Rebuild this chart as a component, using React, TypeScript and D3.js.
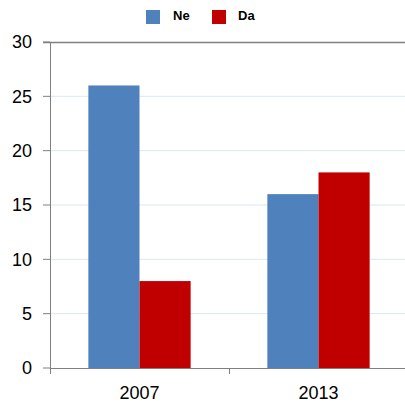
import React from 'react';
import * as d3 from 'd3';

// data
const categories = ['2007', '2013'];
const seriesNames = ['Ne', 'Da'];
const neValues = [26, 16];
const daValues = [8, 18];
const yTicks = [0, 5, 10, 15, 20, 25, 30];
const colors = ['#4f81bd', '#c00000'];

export default function App() {
    const w = 405,
        h = 406;
    const margin = { top: 42, left: 50, bottom: 38, right: -3 };
    const width = w - margin.left - margin.right,
        height = h - margin.top - margin.bottom;

    const x = d3.scaleBand().domain(categories).range([0, width]).paddingInner(0).paddingOuter(0);
    const inner = d3.scaleBand().domain(seriesNames).range([0, x.bandwidth()]).paddingInner(0).paddingOuter(0.75);
    const y = d3.scaleLinear().domain([0, 30]).range([height, 0]);

    const series = [neValues, daValues];
    const font = 'Liberation Sans, Arial, sans-serif';

    return (
        <svg width={w} height={h} style={{ position: 'absolute', left: 0, top: 0 }}>
            {/* legend */}
            <g fontFamily={font} fontWeight="bold" fontSize={13}>
                <rect x={146} y={10} width={14} height={14} fill={colors[0]} />
                <text x={173} y={20}>{seriesNames[0]}</text>
                <rect x={212} y={10} width={14} height={14} fill={colors[1]} />
                <text x={238} y={20}>{seriesNames[1]}</text>
            </g>
            <g transform={`translate(${margin.left},${margin.top})`}>
                {/* gridlines */}
                {yTicks.filter(t => t > 0 && t < 30).map(t => (
                    <line key={t} x1={0} x2={width} y1={y(t)} y2={y(t)} stroke="#dce6f2" strokeWidth={1} />
                ))}
                {/* bars */}
                {categories.map((c, i) => (
                    <g key={c} transform={`translate(${x(c)},0)`}>
                        {seriesNames.map((s, j) => (
                            <rect
                                key={s}
                                x={inner(s)}
                                y={y(series[j][i])}
                                width={inner.bandwidth()}
                                height={y(0) - y(series[j][i])}
                                fill={colors[j]}
                            />
                        ))}
                    </g>
                ))}
                {/* top border */}
                <line x1={-7} x2={width} y1={0.5} y2={0.5} stroke="#808080" strokeWidth={1.5} />
                {/* y axis */}
                <line x1={0.5} x2={0.5} y1={0} y2={height} stroke="#808080" strokeWidth={1} />
                {yTicks.map(t => (
                    <g key={t}>
                        <line x1={-7} x2={0} y1={y(t)} y2={y(t)} stroke="#808080" />
                        <text x={-18} y={y(t)} dy="0.35em" textAnchor="end" fontFamily={font} fontSize={18} fill="#000">{t}</text>
                    </g>
                ))}
                {/* x axis */}
                <line x1={0} x2={width} y1={height + 0.5} y2={height + 0.5} stroke="#808080" />
                {categories.map(c => (
                    <line key={c} x1={x(c)! + 0.5} x2={x(c)! + 0.5} y1={height} y2={height + 6} stroke="#808080" />
                ))}
                {categories.map(c => (
                    <text key={c} x={x(c)! + x.bandwidth() / 2} y={height + 31} textAnchor="middle" fontFamily={font} fontSize={18} fill="#000">{c}</text>
                ))}
            </g>
        </svg>
    );
}
